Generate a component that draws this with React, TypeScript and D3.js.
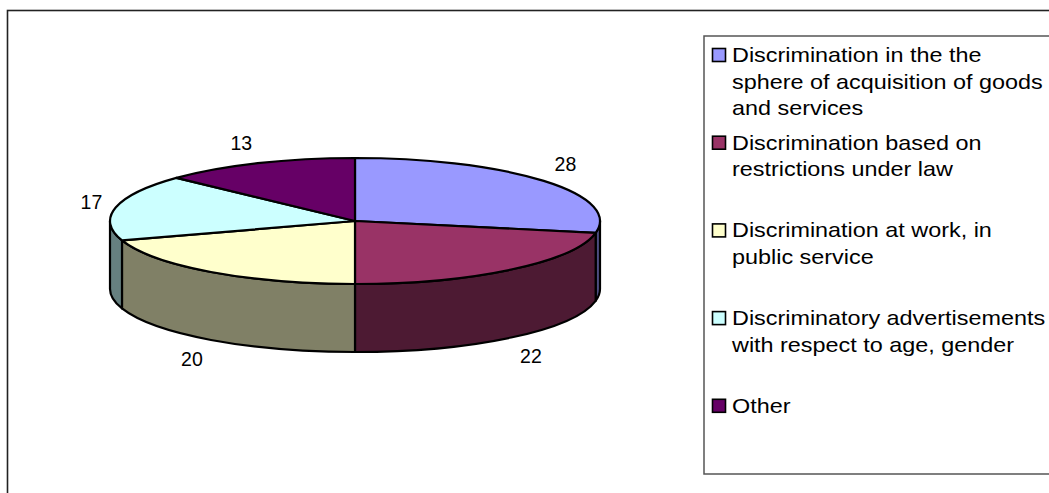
import React from "react";
import * as d3 from "d3";

const categories = [
  "Discrimination in the the sphere of acquisition of goods and services",
  "Discrimination based on restrictions under law",
  "Discrimination at work, in public service",
  "Discriminatory advertisements with respect to age, gender",
  "Other",
];
const legendLines = [
  ["Discrimination in the the", "sphere of acquisition of goods", "and services"],
  ["Discrimination based on", "restrictions under law"],
  ["Discrimination at work, in", "public service"],
  ["Discriminatory advertisements", "with respect to age, gender"],
  ["Other"],
];
const values = [28, 22, 20, 17, 13];
const topColors = ["#9999FF", "#993366", "#FFFFCC", "#CCFFFF", "#660066"];
const sideColors = ["#4D4D80", "#4D1A33", "#808066", "#668080", "#330033"];

const FONT = "'Liberation Sans', Arial, Helvetica, sans-serif";

export default function App() {
  const W = 1049;
  const H = 493;
  const cx = 355;
  const cy = 221;
  const rx = 245;
  const ry = 63;
  const depth = 68;

  const pie = d3.pie<number>().sort(null).startAngle(0).endAngle(2 * Math.PI);
  const arcs = pie(values);

  const px = (a: number) => cx + rx * Math.sin(a);
  const py = (a: number) => cy - ry * Math.cos(a);

  const topPath = (s: number, e: number) => {
    const large = e - s > Math.PI ? 1 : 0;
    return `M${cx},${cy}L${px(s)},${py(s)}A${rx},${ry} 0 ${large} 1 ${px(e)},${py(e)}Z`;
  };

  const sidePath = (s: number, e: number) => {
    const a = Math.max(s, Math.PI / 2);
    const b = Math.min(e, (3 * Math.PI) / 2);
    if (b <= a) return null;
    return `M${px(a)},${py(a)}A${rx},${ry} 0 0 1 ${px(b)},${py(b)}L${px(b)},${py(b) + depth}A${rx},${ry} 0 0 0 ${px(a)},${py(a) + depth}Z`;
  };

  const labelFs = 19.5;
  const gap = 14;
  const boxH = 15;

  const legendX = 704;
  const legendY = 36;
  const itemStart = 62;
  const itemStep = 87.7;
  const lineH = 26.7;

  return (
    <svg
      width={W}
      height={H}
      style={{ position: "fixed", left: 0, top: 0, background: "#fff" }}
      fontFamily={FONT}
    >
      <rect x={7.5} y={10.5} width={W + 20} height={H + 20} fill="#fff" stroke="#222" strokeWidth={1.6} />
      {arcs.map((d, i) => {
        const p = sidePath(d.startAngle, d.endAngle);
        return p ? (
          <path key={"s" + i} d={p} fill={sideColors[i]} stroke="#000" strokeWidth={2.2} strokeLinejoin="round" />
        ) : null;
      })}
      {arcs.map((d, i) => (
        <path key={"t" + i} d={topPath(d.startAngle, d.endAngle)} fill={topColors[i]} stroke="#000" strokeWidth={2.2} strokeLinejoin="round" />
      ))}
      {arcs.map((d, i) => {
        const m = (d.startAngle + d.endAngle) / 2;
        const s = Math.sin(m);
        const c = Math.cos(m);
        const mx = px(m);
        const my = py(m) + (c < 0 ? depth : 0);
        const ax = mx + gap * s;
        const ay = my - gap * c;
        const label = String(values[i]);
        const w = label.length * 0.556 * labelFs;
        const x = ax + Math.sign(s) * (w / 2);
        const y = ay - (boxH / 2) * Math.max(-1, Math.min(1, c * 1.6));
        return (
          <text key={"l" + i} x={x} y={y + 7} textAnchor="middle" fontSize={labelFs} fill="#000">
            {label}
          </text>
        );
      })}
      <rect x={legendX} y={legendY} width={400} height={438} fill="#fff" stroke="#555" strokeWidth={1.5} />
      {categories.map((c, i) => {
        const base = itemStart + i * itemStep;
        return (
          <g key={"g" + i}>
            <rect x={712.5} y={base - 13.5} width={13} height={13} fill={topColors[i]} stroke="#000" strokeWidth={1.6} />
            <g transform={`translate(732,${base}) scale(1.17,1)`}>
              {legendLines[i].map((ln, j) => (
                <text key={j} x={0} y={j * lineH} fontSize={20} fill="#000">
                  {ln}
                </text>
              ))}
            </g>
          </g>
        );
      })}
    </svg>
  );
}
